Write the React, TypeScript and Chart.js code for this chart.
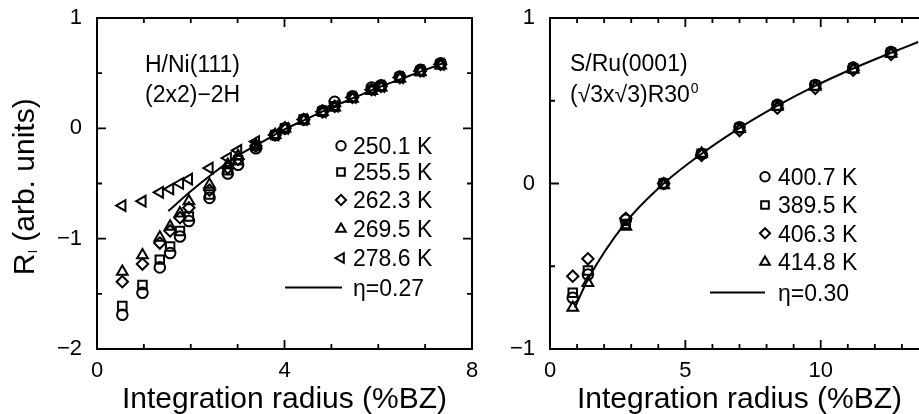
import React, { useEffect, useRef } from 'react';
import { Chart, registerables } from 'chart.js';
import { drawPoint } from 'chart.js/helpers';

Chart.register(...registerables);

const FONT = '"Liberation Sans", Arial, Helvetica, sans-serif';

// ---------- Left panel data: H/Ni(111) (2x2)-2H ----------
const leftX = [0.54, 0.97, 1.34, 1.56, 1.77, 1.96, 2.40, 2.79, 3.01, 3.39, 3.80, 4.01, 4.41, 4.81, 5.07, 5.45, 5.86, 6.06, 6.46, 6.90, 7.33];
const left250 = [-1.69, -1.49, -1.26, -1.13, -0.98, -0.84, -0.63, -0.41, -0.33, -0.18, -0.06, 0.0, 0.08, 0.16, 0.24, 0.29, 0.37, 0.39, 0.47, 0.53, 0.59];
const left255 = [-1.61, -1.42, -1.19, -1.07, -0.93, -0.80, -0.60, -0.38, -0.29, -0.16, -0.06, 0.0, 0.08, 0.15, 0.20, 0.28, 0.35, 0.38, 0.46, 0.52, 0.58];
const left262 = [-1.39, -1.23, -1.04, -0.93, -0.81, -0.72, -0.56, -0.36, -0.28, -0.16, -0.06, 0.0, 0.08, 0.15, 0.20, 0.28, 0.35, 0.38, 0.46, 0.52, 0.58];
const left269 = [-1.30, -1.15, -0.99, -0.89, -0.77, -0.66, -0.51, -0.33, -0.25, -0.15, -0.06, 0.0, 0.07, 0.15, 0.19, 0.27, 0.34, 0.37, 0.45, 0.51, 0.57];
const left278 = [-0.70, -0.66, -0.58, -0.55, -0.50, -0.46, -0.36, -0.27, -0.20, -0.12, -0.06, 0.0, 0.08, 0.15, 0.20, 0.28, 0.35, 0.38, 0.46, 0.52, 0.58];
const leftFitX = [1.52, 2.0, 2.5, 3.0, 3.5, 4.0, 4.5, 5.0, 5.5, 6.0, 6.5, 7.0, 7.45];
const leftFitY = [-0.75, -0.57, -0.40, -0.25, -0.13, -0.01, 0.09, 0.19, 0.28, 0.37, 0.45, 0.53, 0.60];
const leftLabels = ['250.1 K', '255.5 K', '262.3 K', '269.5 K', '278.6 K'];
const leftFitLabel = 'η=0.27';
const leftXTickLabels = [0, 4, 8];
const leftYTickLabels = [-2, -1, 0, 1];

// ---------- Right panel data: S/Ru(0001) ----------
const rightX = [0.84, 1.4, 2.8, 4.2, 5.6, 7.0, 8.4, 9.8, 11.2, 12.6];
const right400 = [-0.69, -0.55, -0.22, 0.0, 0.18, 0.34, 0.475, 0.595, 0.70, 0.795];
const right389 = [-0.66, -0.525, -0.245, 0.0, 0.18, 0.335, 0.47, 0.59, 0.695, 0.79];
const right406 = [-0.56, -0.455, -0.21, 0.0, 0.17, 0.32, 0.455, 0.575, 0.685, 0.78];
const right414 = [-0.75, -0.60, -0.26, -0.01, 0.18, 0.33, 0.465, 0.585, 0.69, 0.785];
const rightFitX = [0.92, 1.4, 2.8, 4.2, 5.6, 7.0, 8.4, 9.8, 11.2, 12.6, 13.6];
const rightFitY = [-0.75, -0.58, -0.235, 0.0, 0.18, 0.335, 0.47, 0.59, 0.695, 0.79, 0.855];
const rightLabels = ['400.7 K', '389.5 K', '406.3 K', '414.8 K'];
const rightFitLabel = 'η=0.30';
const rightXTickLabels = [0, 5, 10];
const rightYTickLabels = [-1, 0, 1];

const xTitle = 'Integration radius (%BZ)';

type MarkerStyle = { pointStyle: string; radius: number; rotation: number };
const markerStyles: MarkerStyle[] = [
  { pointStyle: 'circle', radius: 5.3, rotation: 0 },
  { pointStyle: 'rect', radius: 6, rotation: 0 },
  { pointStyle: 'rectRot', radius: 5.7, rotation: 0 },
  { pointStyle: 'triangle', radius: 6.2, rotation: 0 },
  { pointStyle: 'triangle', radius: 6.2, rotation: -90 },
];
const MARKER_LW = 2;

function fmt(v: number): string {
  return v < 0 ? '\u2212' + Math.abs(v) : String(v);
}

function zip(xs: number[], ys: number[]) {
  return xs.map((x, i) => ({ x, y: ys[i] }));
}

type PanelCfg = {
  xMin: number; xMax: number; yMin: number; yMax: number;
  xStep: number; yStep: number; xMinor: number; yMinor: number;
  xLabels: number[]; yLabels: number[];
  yAxisWidth: number; padRight: number;
  series: number[][]; xs: number[]; labels: string[];
  fitX: number[]; fitY: number[]; fitLabel: string;
  annot: { text: string; x: number; y: number; sup?: string }[];
  legend: { markerX: number; textX: number; rows: number[]; lineY: number; lineX0: number; lineX1: number };
  yTitle: boolean;
};

function framePlugin(cfg: PanelCfg) {
  return {
    id: 'frameTicks',
    afterDraw(chart: any) {
      const { ctx, chartArea } = chart;
      const xs = chart.scales.x;
      const ys = chart.scales.y;
      const { left, right, top, bottom } = chartArea;
      ctx.save();
      ctx.strokeStyle = '#000';
      ctx.fillStyle = '#000';
      ctx.lineWidth = 2;
      ctx.strokeRect(left, top, right - left, bottom - top);
      // ticks
      ctx.lineWidth = 1.8;
      ctx.beginPath();
      for (let v = cfg.xMin; v <= cfg.xMax + 1e-9; v += cfg.xMinor) {
        const vv = Math.round(v * 1000) / 1000;
        const len = cfg.xLabels.includes(vv) ? 9 : 5;
        const px = xs.getPixelForValue(vv);
        ctx.moveTo(px, bottom); ctx.lineTo(px, bottom - len);
        ctx.moveTo(px, top); ctx.lineTo(px, top + len);
      }
      for (let v = cfg.yMin; v <= cfg.yMax + 1e-9; v += cfg.yMinor) {
        const vv = Math.round(v * 1000) / 1000;
        const len = cfg.yLabels.includes(vv) ? 9 : 5;
        const py = ys.getPixelForValue(vv);
        ctx.moveTo(left, py); ctx.lineTo(left + len, py);
        ctx.moveTo(right, py); ctx.lineTo(right - len, py);
      }
      ctx.stroke();

      // annotations
      ctx.textAlign = 'left';
      ctx.textBaseline = 'alphabetic';
      for (const a of cfg.annot) {
        ctx.font = `23px ${FONT}`;
        ctx.fillText(a.text, a.x, a.y);
        if (a.sup) {
          const w = ctx.measureText(a.text).width;
          ctx.font = `14px ${FONT}`;
          ctx.fillText(a.sup, a.x + w + 1, a.y - 9);
        }
      }

      // legend
      const L = cfg.legend;
      ctx.font = `23px ${FONT}`;
      cfg.labels.forEach((lab, i) => {
        const st = markerStyles[i];
        const y = L.rows[i];
        ctx.save();
        ctx.lineWidth = MARKER_LW;
        ctx.strokeStyle = '#000';
        ctx.fillStyle = 'rgba(0,0,0,0)';
        drawPoint(ctx, { pointStyle: st.pointStyle, radius: st.radius - 0.6, rotation: st.rotation, borderWidth: MARKER_LW } as any, L.markerX, y);
        ctx.restore();
        ctx.fillText(lab, L.textX, y + 8.2);
      });
      ctx.lineWidth = 2;
      ctx.beginPath();
      ctx.moveTo(L.lineX0, L.lineY);
      ctx.lineTo(L.lineX1, L.lineY);
      ctx.stroke();
      ctx.fillText(cfg.fitLabel, L.textX, L.lineY + 8.2);

      // x title
      ctx.font = `30px ${FONT}`;
      ctx.textAlign = 'center';
      ctx.fillText(xTitle, (left + right) / 2, 408);

      // y title
      if (cfg.yTitle) {
        ctx.save();
        ctx.translate(34, 187);
        ctx.rotate(-Math.PI / 2);
        ctx.textAlign = 'left';
        ctx.font = `30px ${FONT}`;
        const w1 = ctx.measureText('R').width;
        const w3 = ctx.measureText(' (arb. units)').width;
        ctx.font = `13px ${FONT}`;
        const w2 = ctx.measureText('l').width;
        const start = -(w1 + w2 + w3) / 2;
        ctx.font = `30px ${FONT}`;
        ctx.fillText('R', start, 0);
        ctx.font = `13px ${FONT}`;
        ctx.fillText('l', start + w1 + 0.5, 3);
        ctx.font = `30px ${FONT}`;
        ctx.fillText(' (arb. units)', start + w1 + w2 + 0.5, 0);
        ctx.restore();
      }
      ctx.restore();
    },
  };
}

function makeConfig(cfg: PanelCfg): any {
  const datasets: any[] = cfg.series.map((ys, i) => ({
    label: cfg.labels[i],
    data: zip(cfg.xs, ys),
    showLine: false,
    pointStyle: markerStyles[i].pointStyle,
    pointRadius: markerStyles[i].radius,
    pointRotation: markerStyles[i].rotation,
    pointBorderWidth: MARKER_LW,
    pointBorderColor: '#000',
    pointBackgroundColor: 'rgba(0,0,0,0)',
  }));
  datasets.push({
    label: cfg.fitLabel,
    data: zip(cfg.fitX, cfg.fitY),
    showLine: true,
    borderColor: '#000',
    borderWidth: 2,
    pointRadius: 0,
    cubicInterpolationMode: 'monotone',
    fill: false,
  });
  const tickFont = { family: FONT, size: 22 };
  return {
    type: 'scatter',
    data: { datasets },
    options: {
      responsive: false,
      animation: false,
      devicePixelRatio: 1,
      layout: { autoPadding: false, padding: { top: 18, right: cfg.padRight, bottom: 0, left: 0 } },
      plugins: { legend: { display: false }, tooltip: { enabled: false } },
      scales: {
        x: {
          type: 'linear', min: cfg.xMin, max: cfg.xMax,
          grid: { display: false, drawTicks: false }, border: { display: false },
          afterFit: (s: any) => { s.height = 65; s.paddingLeft = 0; s.paddingRight = 0; },
          ticks: {
            stepSize: cfg.xStep, includeBounds: false, autoSkip: false, maxRotation: 0,
            padding: 9, font: tickFont, color: '#000',
            callback: (v: number) => (cfg.xLabels.includes(v) ? fmt(v) : ''),
          },
        },
        y: {
          type: 'linear', min: cfg.yMin, max: cfg.yMax,
          grid: { display: false, drawTicks: false }, border: { display: false },
          afterFit: (s: any) => { s.width = cfg.yAxisWidth; s.paddingTop = 0; s.paddingBottom = 0; },
          ticks: {
            stepSize: cfg.yStep, includeBounds: false, autoSkip: false,
            padding: 15, font: tickFont, color: '#000',
            callback: (v: number) => (cfg.yLabels.includes(v) ? fmt(v) : ''),
          },
        },
      },
    },
    plugins: [framePlugin(cfg)],
  };
}

const leftCfg: PanelCfg = {
  xMin: 0, xMax: 8, yMin: -2, yMax: 1, xStep: 4, yStep: 1, xMinor: 1, yMinor: 0.5,
  xLabels: leftXTickLabels, yLabels: leftYTickLabels,
  yAxisWidth: 97, padRight: 18,
  series: [left250, left255, left262, left269, left278], xs: leftX, labels: leftLabels,
  fitX: leftFitX, fitY: leftFitY, fitLabel: leftFitLabel,
  annot: [
    { text: 'H/Ni(111)', x: 145, y: 72 },
    { text: '(2x2)\u22122H', x: 145, y: 102 },
  ],
  legend: { markerX: 341, textX: 353, rows: [145.7, 172, 200, 229, 258], lineY: 287.5, lineX0: 285, lineX1: 342 },
  yTitle: true,
};

const rightCfg: PanelCfg = {
  xMin: 0, xMax: 14, yMin: -1, yMax: 1, xStep: 5, yStep: 1, xMinor: 1, yMinor: 0.5,
  xLabels: rightXTickLabels, yLabels: rightYTickLabels,
  yAxisWidth: 60, padRight: 11,
  series: [right400, right389, right406, right414], xs: rightX, labels: rightLabels,
  fitX: rightFitX, fitY: rightFitY, fitLabel: rightFitLabel,
  annot: [
    { text: 'S/Ru(0001)', x: 80, y: 71 },
    { text: '(\u221A3x\u221A3)R30', x: 80, y: 102, sup: '0' },
  ],
  legend: { markerX: 275, textX: 288, rows: [176.7, 205, 233.3, 262], lineY: 292.5, lineX0: 220, lineX1: 275 },
  yTitle: false,
};

export default function App() {
  const leftRef = useRef<HTMLCanvasElement>(null);
  const rightRef = useRef<HTMLCanvasElement>(null);
  useEffect(() => {
    const c1 = new Chart(leftRef.current as HTMLCanvasElement, makeConfig(leftCfg));
    const c2 = new Chart(rightRef.current as HTMLCanvasElement, makeConfig(rightCfg));
    return () => { c1.destroy(); c2.destroy(); };
  }, []);
  return (
    <div style={{ position: 'fixed', left: 0, top: 0, width: 919, height: 414, overflow: 'hidden', background: '#fff' }}>
      <canvas ref={leftRef} width={490} height={414} style={{ position: 'absolute', left: 0, top: 0, width: 490, height: 414 }} />
      <canvas ref={rightRef} width={450} height={414} style={{ position: 'absolute', left: 490, top: 0, width: 450, height: 414 }} />
    </div>
  );
}
